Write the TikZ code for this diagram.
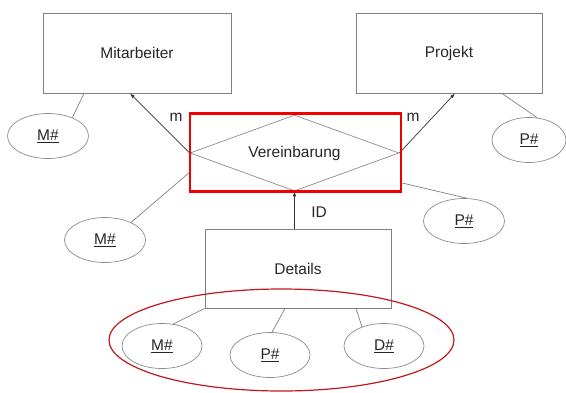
\documentclass[tikz,border=0pt]{standalone}
\usepackage{fontspec}
\setmainfont{Liberation Sans}
\usetikzlibrary{shapes.geometric,arrows.meta}
\definecolor{linegray}{HTML}{808080}
\definecolor{attrgray}{HTML}{8C8C8C}
\definecolor{txt}{HTML}{262626}
\definecolor{hlred}{HTML}{F00000}
\definecolor{ringred}{HTML}{C0181C}

\begin{document}
\begin{tikzpicture}[x=1pt,y=-1pt,
  lbl/.style={text=txt, font=\fontsize{15.5}{18}\selectfont},
  entity/.style={lbl, draw=linegray, line width=0.8pt, minimum width=188pt,
    minimum height=80pt, inner sep=0pt},
  attr/.style={lbl, ellipse, draw=attrgray, line width=0.7pt, minimum width=81pt,
    minimum height=45pt, inner sep=0pt},
  link/.style={draw=linegray, line width=0.7pt},
  relarrow/.style={draw=black!80, line width=0.7pt,
    -{Latex[length=5pt,width=3.5pt]}}
]
\useasboundingbox (0,0) rectangle (566,392);

% entities
\node[entity] (mit) at (137,53) {Mitarbeiter};
\node[entity, minimum width=186pt] (proj) at (449,53) {Projekt};
\node[entity, minimum width=186pt, minimum height=79pt] (det) at (298,268.5) {Details};

% relationship
\node[lbl, diamond, aspect=2.75, draw=attrgray, line width=0.7pt, minimum width=209pt,
  minimum height=76pt, inner sep=0pt] (ver) at (294.5,153) {Vereinbarung};

% attributes
\node[attr] (m1) at (48,136) {\underline{M\#}};
\node[attr, minimum width=74pt] (p1) at (529,140) {\underline{P\#}};
\node[attr] (m2) at (105,240) {\underline{M\#}};
\node[attr] (p2) at (464,221) {\underline{P\#}};
\node[attr, minimum width=80pt] (m3) at (162,346) {\underline{M\#}};
\node[attr, minimum width=80pt] (p3) at (270,355) {\underline{P\#}};
\node[attr, minimum width=80pt] (d3) at (384,346) {\underline{D\#}};

% attribute links
\draw[link] ([xshift=-53pt]mit.south) -- (m1.37);
\draw[link] ([xshift=53pt]proj.south) -- (p1.70);
\draw[link] ([xshift=-13pt]det.south) -- (p3.85);
\draw[link] ([xshift=58pt]det.south) -- (d3.139);
\draw[link] (det.south west) -- (m3.63);

% relationship arrows
\draw[relarrow] (ver.west) -- ([xshift=-7pt]mit.south);
\draw[relarrow] (ver.east) -- ([xshift=6pt]proj.south);
\draw[relarrow] (det.north -| ver.south) -- (ver.south);

% cardinalities
\node[lbl] (c1) at (176,117) {m};
\node[lbl] (c2) at (413,117) {m};
\node[lbl] (c3) at (319,212) {ID};

% highlight frame round the relationship
\node[draw=hlred, line width=2.6pt, minimum width=211pt, minimum height=78pt,
  inner sep=0pt] (hl) at (295.5,152.5) {};
\draw[link] ([yshift=-20.5pt]hl.west) -- (m2.34);
\draw[link] ([yshift=-30.5pt]hl.east) -- (p2.83);

% ring round the key attributes of Details
\draw[ringred, line width=1.2pt] (281.5,340) ellipse [x radius=172.5pt, y radius=51pt];
\end{tikzpicture}
\end{document}
